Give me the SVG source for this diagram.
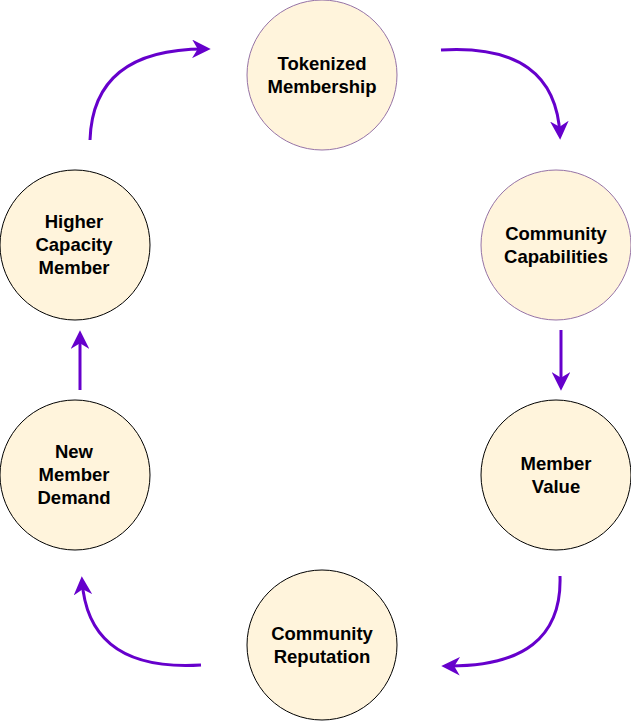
<svg xmlns="http://www.w3.org/2000/svg" width="631" height="721" viewBox="0 0 631 721">
<style>
.n{fill:#fff4dc;stroke:#000;stroke-width:1}
.p{stroke:#9673a6}
.t{font-family:"Liberation Sans",Arial,sans-serif;font-size:18.5px;font-weight:bold;fill:#000;text-anchor:middle}
.c{fill:none;stroke:#6600cc;stroke-width:3;marker-end:url(#ah)}
</style>
<defs>
<marker id="ah" viewBox="0 0 10 10" refX="8" refY="5" markerWidth="6.2" markerHeight="6.2" markerUnits="strokeWidth" orient="auto">
<path d="M0 0 L10 5 L0 10 L3 5 Z" fill="#6600cc"/>
</marker>
</defs>
<rect width="631" height="721" fill="#fff"/>
<g id="connectors">
<path class="c" d="M90 140 Q93 48 207 49"/>
<path class="c" d="M441 50 Q556 43 560 136"/>
<path class="c" d="M561 330 L561 387"/>
<path class="c" d="M560 576 Q563 668 445 666"/>
<path class="c" d="M201 665 Q88 672 82 580"/>
<path class="c" d="M80 390 L80 334"/>
</g>
<g id="tokenized">
<circle class="n p" cx="322" cy="75" r="75"/>
<text class="t" x="322" y="70">Tokenized</text>
<text class="t" x="322" y="93">Membership</text>
</g>
<g id="capabilities">
<circle class="n p" cx="556" cy="245" r="75"/>
<text class="t" x="556" y="240">Community</text>
<text class="t" x="556" y="263">Capabilities</text>
</g>
<g id="value">
<circle class="n" cx="556" cy="475" r="75"/>
<text class="t" x="556" y="470">Member</text>
<text class="t" x="556" y="493">Value</text>
</g>
<g id="reputation">
<circle class="n" cx="322" cy="645" r="75"/>
<text class="t" x="322" y="640">Community</text>
<text class="t" x="322" y="663">Reputation</text>
</g>
<g id="demand">
<circle class="n" cx="75" cy="475" r="75"/>
<text class="t" x="74" y="458">New</text>
<text class="t" x="74" y="481">Member</text>
<text class="t" x="74" y="504">Demand</text>
</g>
<g id="higher">
<circle class="n" cx="75" cy="245" r="75"/>
<text class="t" x="74" y="228">Higher</text>
<text class="t" x="74" y="251">Capacity</text>
<text class="t" x="74" y="274">Member</text>
</g>
</svg>
